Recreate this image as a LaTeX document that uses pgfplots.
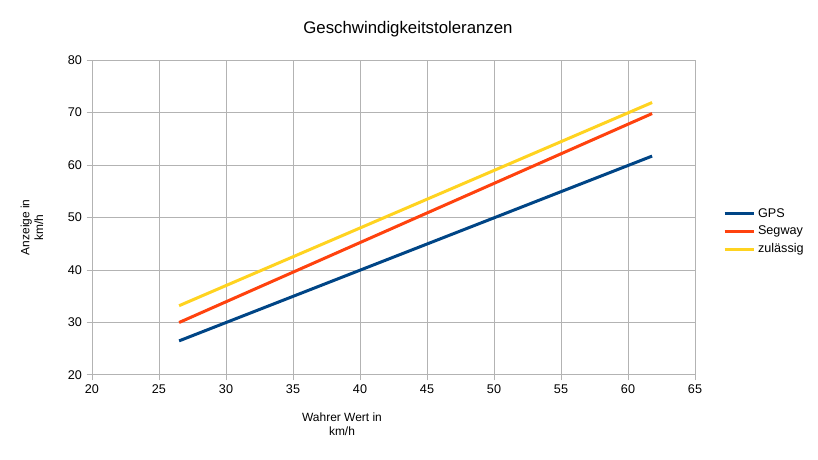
\documentclass[border=0pt]{standalone}
\usepackage{pgfplots}
\pgfplotsset{compat=1.18}
\usepackage{fontspec}
\setmainfont{Liberation Sans}
\definecolor{gps}{HTML}{004586}
\definecolor{seg}{HTML}{FF420E}
\definecolor{zul}{HTML}{FFD320}
\definecolor{gridc}{HTML}{B3B3B3}
\begin{document}
\begin{tikzpicture}
\path[use as bounding box] (0,0) rectangle (613.5bp,345bp);
\begin{axis}[
  at={(69bp,63.75bp)}, anchor=south west,
  scale only axis, width=452.25bp, height=236.25bp,
  xmin=20, xmax=65, ymin=20, ymax=80,
  xtick={20,25,...,65}, ytick={20,30,...,80},
  grid=major, grid style={gridc, line width=0.75bp},
  axis line style={gridc, line width=0.75bp},
  tick style={gridc, line width=0.75bp},
  tick align=outside, major tick length=4bp,
  xtick pos=bottom, ytick pos=left,
  ticklabel style={font=\fontsize{9.5}{11}\selectfont},
  /pgf/number format/assume math mode=true,
  legend style={at={(rel axis cs:1.0395,0.546)}, anchor=north west, draw=none, fill=none,
    font=\fontsize{9.5}{11}\selectfont, row sep=1bp,
    legend cell align=left},
  legend image code/.code={\draw[#1, line width=2.25bp] (0bp,0bp) -- (22bp,0bp);},
]
\addplot[gps, line width=2.25bp] coordinates {(26.5,26.5) (61.8,61.7)};
\addlegendentry{GPS}
\addplot[seg, line width=2.25bp] coordinates {(26.5,30.0) (61.8,69.8)};
\addlegendentry{Segway}
\addplot[zul, line width=2.25bp] coordinates {(26.5,33.2) (61.8,71.9)};
\addlegendentry{zulässig}
\end{axis}
\node[font=\fontsize{12.65}{14}\selectfont] at (306bp,323.5bp) {Geschwindigkeitstoleranzen};
\node[rotate=90, align=center, font=\fontsize{9}{10.5}\selectfont] at (24bp,174.5bp) {Anzeige in\\km/h};
\node[align=center, font=\fontsize{9}{10.5}\selectfont] at (256.5bp,26.5bp) {Wahrer Wert in\\km/h};
\end{tikzpicture}
\end{document}
